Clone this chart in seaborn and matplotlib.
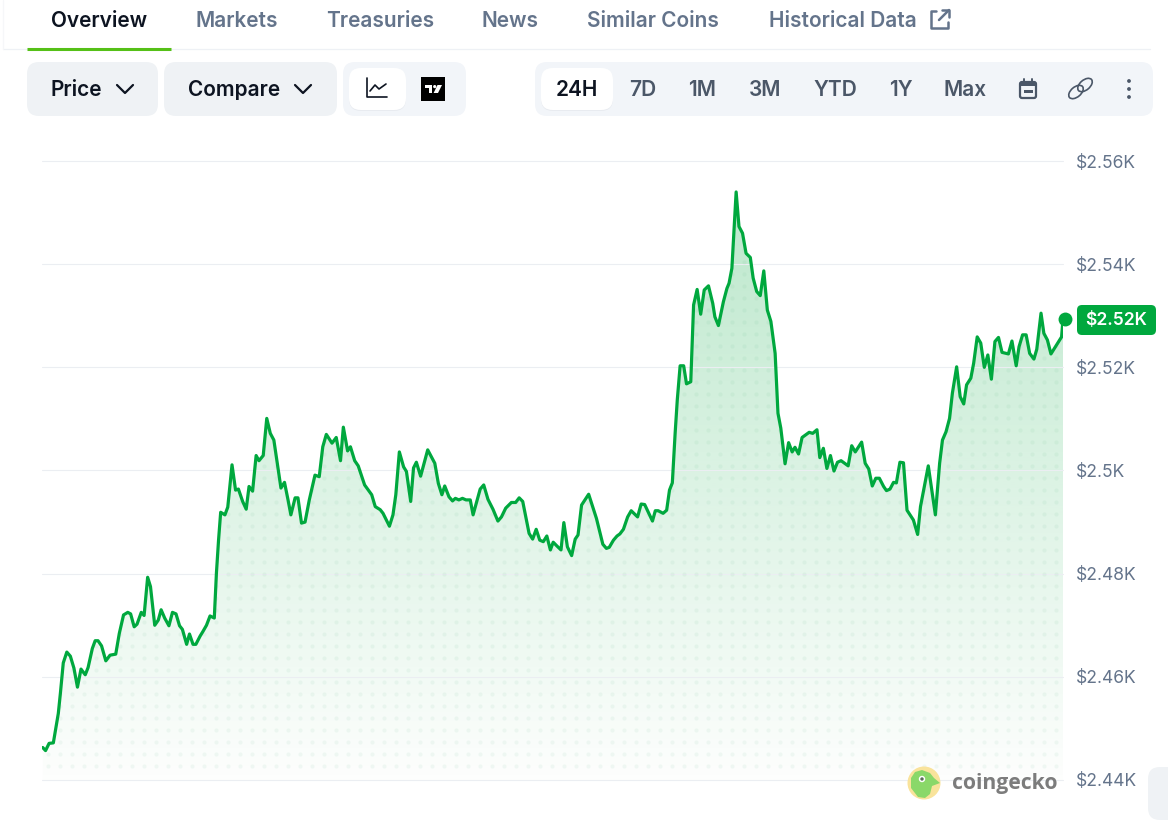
import numpy as np
import matplotlib
matplotlib.use("Agg")
import matplotlib.pyplot as plt
from matplotlib.patches import FancyBboxPatch, Circle, Polygon, Ellipse
from matplotlib.transforms import ScaledTranslation
import seaborn as sns

# -------------------------
# DATA
# -------------------------

minutes = [
    1, 5, 10, 16, 23, 26, 30, 35, 40, 45, 50, 55, 61, 65, 71, 75, 79, 84, 90, 96,
    104, 109, 115, 121, 125, 130, 134, 140, 144, 149, 153, 159, 164, 168, 173, 179, 184, 189, 194, 198,
    204, 208, 213, 217, 223, 227, 232, 237, 243, 246, 249, 252, 258, 262, 268, 273, 277, 283, 288, 292,
    297, 302, 306, 312, 317, 322, 327, 337, 342, 347, 351, 357, 361, 366, 371, 377, 385, 391, 396, 401,
    409, 415, 421, 425, 431, 435, 441, 446, 455, 465, 470, 477, 481, 490, 495, 499, 504, 510, 514, 520,
    524, 528, 534, 544, 554, 559, 564, 568, 574, 579, 583, 588, 593, 598, 604, 608, 618, 623, 629, 636,
    643, 648, 654, 662, 668, 673, 678, 687, 692, 697, 702, 707, 712, 717, 721, 726, 732, 736, 741, 747,
    752, 756, 761, 771, 782, 791, 796, 800, 806, 811, 815, 820, 826, 831, 840, 845, 850, 861, 865, 869,
    876, 881, 885, 889, 893, 896, 900, 905, 909, 915, 919, 924, 929, 934, 940, 946, 949, 954, 961, 966,
    969, 973, 979, 983, 988, 993, 999, 1003, 1008, 1013, 1018, 1023, 1028, 1034, 1038, 1042, 1048, 1053, 1058, 1062,
    1067, 1072, 1082, 1087, 1093, 1097, 1102, 1107, 1112, 1117, 1122, 1127, 1137, 1142, 1147, 1156, 1161, 1166, 1171, 1176,
    1181, 1187, 1191, 1196, 1201, 1205, 1210, 1215, 1220, 1229, 1235, 1239, 1250, 1260, 1266, 1270, 1275, 1280, 1284, 1290,
    1295, 1300, 1304, 1310, 1314, 1319, 1324, 1329, 1334, 1339, 1344, 1349, 1354, 1363, 1368, 1374, 1378, 1383, 1388, 1393,
    1399, 1403, 1409, 1413, 1418, 1423, 1438, 1440,
]

prices = [
    2446.3, 2445.7, 2447.1, 2447.2, 2452.9, 2456.9, 2462.7, 2464.8, 2464.0, 2461.7, 2458.0, 2461.5, 2460.4, 2461.8, 2465.5, 2467.0, 2467.0, 2466.0, 2463.1, 2464.2,
    2464.4, 2468.4, 2472.0, 2472.5, 2472.2, 2469.7, 2470.2, 2472.5, 2471.9, 2479.3, 2477.5, 2470.0, 2471.0, 2473.0, 2471.4, 2469.9, 2472.5, 2472.2, 2469.9, 2469.2,
    2466.3, 2468.3, 2466.3, 2466.3, 2467.9, 2468.8, 2470.0, 2471.8, 2471.4, 2480.1, 2486.5, 2491.9, 2491.4, 2492.9, 2501.1, 2496.2, 2496.4, 2494.0, 2492.5, 2496.9,
    2496.0, 2502.9, 2501.9, 2502.9, 2510.1, 2507.2, 2505.9, 2496.6, 2497.7, 2494.3, 2491.4, 2494.7, 2494.7, 2489.8, 2490.0, 2494.3, 2499.1, 2498.8, 2504.6, 2507.0,
    2505.3, 2506.4, 2501.9, 2508.4, 2503.8, 2504.6, 2501.9, 2500.9, 2497.2, 2495.3, 2493.0, 2492.4, 2491.7, 2489.2, 2491.4, 2495.3, 2503.6, 2500.7, 2499.8, 2494.0,
    2500.5, 2501.6, 2498.9, 2504.0, 2501.4, 2497.5, 2495.3, 2497.0, 2494.9, 2494.1, 2494.6, 2494.3, 2494.6, 2494.3, 2494.3, 2491.4, 2496.4, 2497.2, 2494.4, 2492.5,
    2490.2, 2491.0, 2492.7, 2493.8, 2493.8, 2494.7, 2494.0, 2487.8, 2486.7, 2488.6, 2486.5, 2486.2, 2487.3, 2484.6, 2486.1, 2485.4, 2484.6, 2489.9, 2485.2, 2483.5,
    2486.7, 2487.5, 2493.3, 2495.4, 2490.7, 2485.7, 2484.9, 2485.1, 2486.5, 2487.3, 2487.7, 2488.6, 2491.0, 2492.2, 2491.0, 2493.5, 2493.4, 2490.2, 2492.2, 2492.2,
    2491.7, 2492.3, 2496.2, 2497.6, 2507.3, 2513.7, 2520.3, 2520.3, 2516.8, 2517.2, 2532.1, 2535.1, 2530.3, 2535.0, 2535.8, 2532.4, 2529.8, 2528.1, 2532.7, 2535.3,
    2536.3, 2539.2, 2554.0, 2547.3, 2546.0, 2542.1, 2541.3, 2537.3, 2534.7, 2533.9, 2538.7, 2531.1, 2528.9, 2522.7, 2511.1, 2508.2, 2501.3, 2505.4, 2503.6, 2504.5,
    2503.2, 2506.4, 2507.4, 2507.2, 2507.9, 2502.5, 2504.3, 2500.4, 2502.9, 2499.9, 2501.6, 2501.9, 2500.9, 2504.8, 2503.6, 2505.5, 2501.4, 2500.3, 2497.0, 2498.5,
    2498.5, 2496.9, 2496.1, 2496.4, 2497.7, 2497.6, 2501.6, 2501.5, 2492.3, 2490.4, 2487.6, 2493.0, 2500.9, 2491.4, 2501.4, 2505.9, 2507.5, 2510.1, 2515.0, 2520.1,
    2514.3, 2512.9, 2516.6, 2517.9, 2520.8, 2525.9, 2524.7, 2520.0, 2522.4, 2517.7, 2525.0, 2525.8, 2522.9, 2522.6, 2525.1, 2520.3, 2524.0, 2526.3, 2526.3, 2522.7,
    2521.6, 2523.5, 2530.5, 2526.6, 2525.3, 2522.6, 2525.9, 2529.3,
]

y_ticks = [2440, 2460, 2480, 2500, 2520, 2540, 2560]
y_tick_labels = ["$2.44K", "$2.46K", "$2.48K", "$2.5K", "$2.52K", "$2.54K", "$2.56K"]
current_label = "$2.52K"

tabs = ["Overview", "Markets", "Treasuries", "News", "Similar Coins", "Historical Data"]
tab_centers = [99, 237, 380, 510, 653, 843]
ranges = ["24H", "7D", "1M", "3M", "YTD", "1Y", "Max"]
range_centers = [577, 643, 702.5, 765, 835, 900.5, 965]

GREEN = "#00a83e"
PILL = "#eff2f5"
PILL_LIGHT = "#f2f5f9"
SLATE = "#64748b"
DARK = "#0d1421"
ICON = "#4b5768"

# -------------------------
# THEME AND FIGURE
# -------------------------

sns.set_theme(style="white")
plt.rcParams["font.family"] = ["Inter", "DejaVu Sans"]

W, H = 1168, 824
fig = plt.figure(figsize=(W / 100, H / 100), dpi=100, facecolor="white")

# chart axes sit exactly on the plot area, in figure fractions
left, right, top, bottom = 42, 1063, 161, 780
ax = fig.add_axes([left / W, 1 - bottom / H, (right - left) / W, (bottom - top) / H])
ax.set_zorder(1)

# overlay in pixel coordinates for the page controls
ui = fig.add_axes([0, 0, 1, 1])
ui.set_xlim(0, W)
ui.set_ylim(H, 0)
ui.axis("off")
ui.patch.set_alpha(0)
ui.set_zorder(2)

# -------------------------
# PRICE CHART
# -------------------------

area = ax.fill_between(minutes, prices, y_ticks[0], color="none", linewidth=0)
area_path = area.get_paths()[0]

# green fade under the line
alpha = np.linspace(0.28, 0.01, 256)
fade = np.zeros((256, 1, 4))
fade[:, 0, :3] = matplotlib.colors.to_rgb(GREEN)
fade[:, 0, 3] = alpha
img = ax.imshow(fade, extent=[0, 1440, y_ticks[0], y_ticks[-1]], aspect="auto", zorder=1)
img.set_clip_path(area_path, ax.transData)

sns.lineplot(x=minutes, y=prices, ax=ax, color=GREEN, linewidth=2.3, zorder=3, estimator=None, sort=False)
# end marker sits 2 px past the end of the line
nudge = ScaledTranslation(2 / 100, 0, fig.dpi_scale_trans)
ax.scatter(minutes[-1], prices[-1], s=100, color=GREEN, zorder=4, clip_on=False, linewidths=0,
           transform=ax.transData + nudge)

ax.set_xlim(0, 1440)
ax.set_ylim(y_ticks[0], y_ticks[-1])
ax.set_xticks([])
ax.set_yticks(y_ticks)
ax.set_yticklabels(y_tick_labels, color=SLATE, fontsize=12.6)
ax.yaxis.tick_right()
ax.tick_params(axis="y", length=0, pad=9)
ax.grid(axis="y", color="#ebeef2", linewidth=0.8, zorder=2)
ax.set_axisbelow(False)
# first and last gridlines lie on the axes edge
for gl in ax.get_ygridlines():
    gl.set_clip_on(False)
sns.despine(ax=ax, left=True, right=True, top=True, bottom=True)

# dotted texture inside the area
dx, dy = np.meshgrid(np.arange(48, 1063, 12), np.arange(178, 775, 12))
dots = ui.scatter(dx.ravel(), dy.ravel(), s=9, color="#2f9e63", alpha=0.06, linewidths=0)
dots.set_clip_path(area_path, ax.transData)


# -------------------------
# PAGE CONTROLS
# -------------------------

def pill(x0, y0, x1, y1, color, r=12, **kw):
    ui.add_patch(FancyBboxPatch((x0 + r, y0 + r), x1 - x0 - 2 * r, y1 - y0 - 2 * r,
                                boxstyle=f"round,pad={r},rounding_size={r}",
                                fc=color, ec="none", **kw))


def stroke(xs, ys, color=DARK, lw=1.5):
    ui.plot(xs, ys, color=color, lw=lw, solid_capstyle="round", solid_joinstyle="round")


# tabs
ui.plot([3, 1150], [49, 49], color="#eef1f5", lw=0.9)
ui.plot([2.5, 2.5], [0, 49], color="#f6f7f9", lw=0.9)
ui.plot([27, 171], [48.5, 48.5], color="#55c017", lw=2.2, solid_capstyle="butt")
for name, cx in zip(tabs, tab_centers):
    active = name == "Overview"
    ui.text(cx, 21, name, ha="center", va="center", fontsize=15,
            color=DARK if active else SLATE, fontweight="semibold")

# external link icon
stroke([936, 931, 931, 948, 948], [11, 11, 28, 28, 22], SLATE, 1.8)
stroke([939, 949], [20, 10], SLATE, 1.8)
stroke([942, 949, 949], [10, 10, 17], SLATE, 1.8)

# Price and Compare dropdowns
pill(27, 62, 158, 116, PILL)
pill(164, 62, 337, 116, PILL)
ui.text(51, 90, "Price", ha="left", va="center", fontsize=15, color=DARK, fontweight="semibold")
ui.text(188, 90, "Compare", ha="left", va="center", fontsize=15, color=DARK, fontweight="semibold")
stroke([117, 125, 133], [85, 93, 85], DARK, 1.6)
stroke([295, 303, 311], [85, 93, 85], DARK, 1.6)

# chart type toggle
pill(343, 62, 466, 116, PILL_LIGHT)
pill(349, 69, 406, 111, "#e8ebf0")
pill(349, 68, 406, 110, "white")
stroke([367, 367, 387], [78, 97, 97], DARK, 1.2)
stroke([370, 375, 379, 386], [91, 85, 89, 84], DARK, 1.2)
ui.add_patch(plt.Rectangle((421, 77), 24, 24, fc="black", ec="none"))
ui.add_patch(plt.Rectangle((425, 85), 7, 2.6, fc="white", ec="none"))
ui.add_patch(plt.Rectangle((428.5, 85), 3.2, 8, fc="white", ec="none"))
ui.add_patch(Circle((434.7, 86.6), 1.6, fc="white", ec="none"))
ui.add_patch(Polygon([[437.5, 85], [442, 85], [438, 93], [433.6, 93]], closed=True, fc="white", ec="none"))

# time range selector
pill(535, 62, 1153, 116, PILL_LIGHT)
pill(541, 69, 613, 111, "#e8ebf0")
pill(541, 68, 613, 110, "white")
for name, cx in zip(ranges, range_centers):
    ui.text(cx, 90, name, ha="center", va="center", fontsize=15,
            color=DARK if name == "24H" else ICON, fontweight="semibold")

# calendar, link and menu icons
ui.add_patch(FancyBboxPatch((1020, 82), 16, 16, boxstyle="round,pad=0,rounding_size=2",
                            fc="none", ec=ICON, lw=1.6))
ui.add_patch(plt.Rectangle((1020, 82), 16, 4, fc=ICON, ec="none"))
ui.add_patch(plt.Rectangle((1023.5, 90), 9, 3, fc=ICON, ec="none"))
stroke([1024, 1024], [79, 82], ICON, 1.4)
stroke([1032, 1032], [79, 82], ICON, 1.4)
for cx, cy in [(1076, 92), (1085, 85)]:
    ui.add_patch(Ellipse((cx, cy), 17, 10, angle=-40, fc="none", ec=ICON, lw=1.2))
for cy in [81, 89, 97]:
    ui.add_patch(Circle((1129, cy), 1.9, fc=ICON, ec="none"))

# current price badge
pill(1077, 305, 1156, 335, GREEN, r=5)
ui.text(1116.5, 320.5, current_label, ha="center", va="center", fontsize=12.6,
        color="white", fontweight="semibold")

# coingecko mark
ui.add_patch(Circle((924, 783), 16.5, fc="#f9e39b", ec="none"))
ui.add_patch(Polygon([[911, 778], [915, 772], [922, 770], [930, 773], [934, 778], [940, 783],
                      [932, 786], [930, 794], [925, 798], [918, 797], [911, 788]],
                     closed=True, fc="#8ad869", ec="none"))
ui.add_patch(Circle((922, 779), 3.2, fc="white", ec="none"))
ui.add_patch(Circle((922, 779), 1.7, fc="#5a6b5a", ec="none"))
ui.text(952, 783, "coingecko", ha="left", va="center", fontsize=15.2, color="#7c7c7c",
        fontweight="bold", family=["Open Sans", "DejaVu Sans"])

# scroll button cut off at the corner
pill(1148, 767, 1190, 820, PILL)

fig.savefig("out.png", dpi=100, facecolor="white")
